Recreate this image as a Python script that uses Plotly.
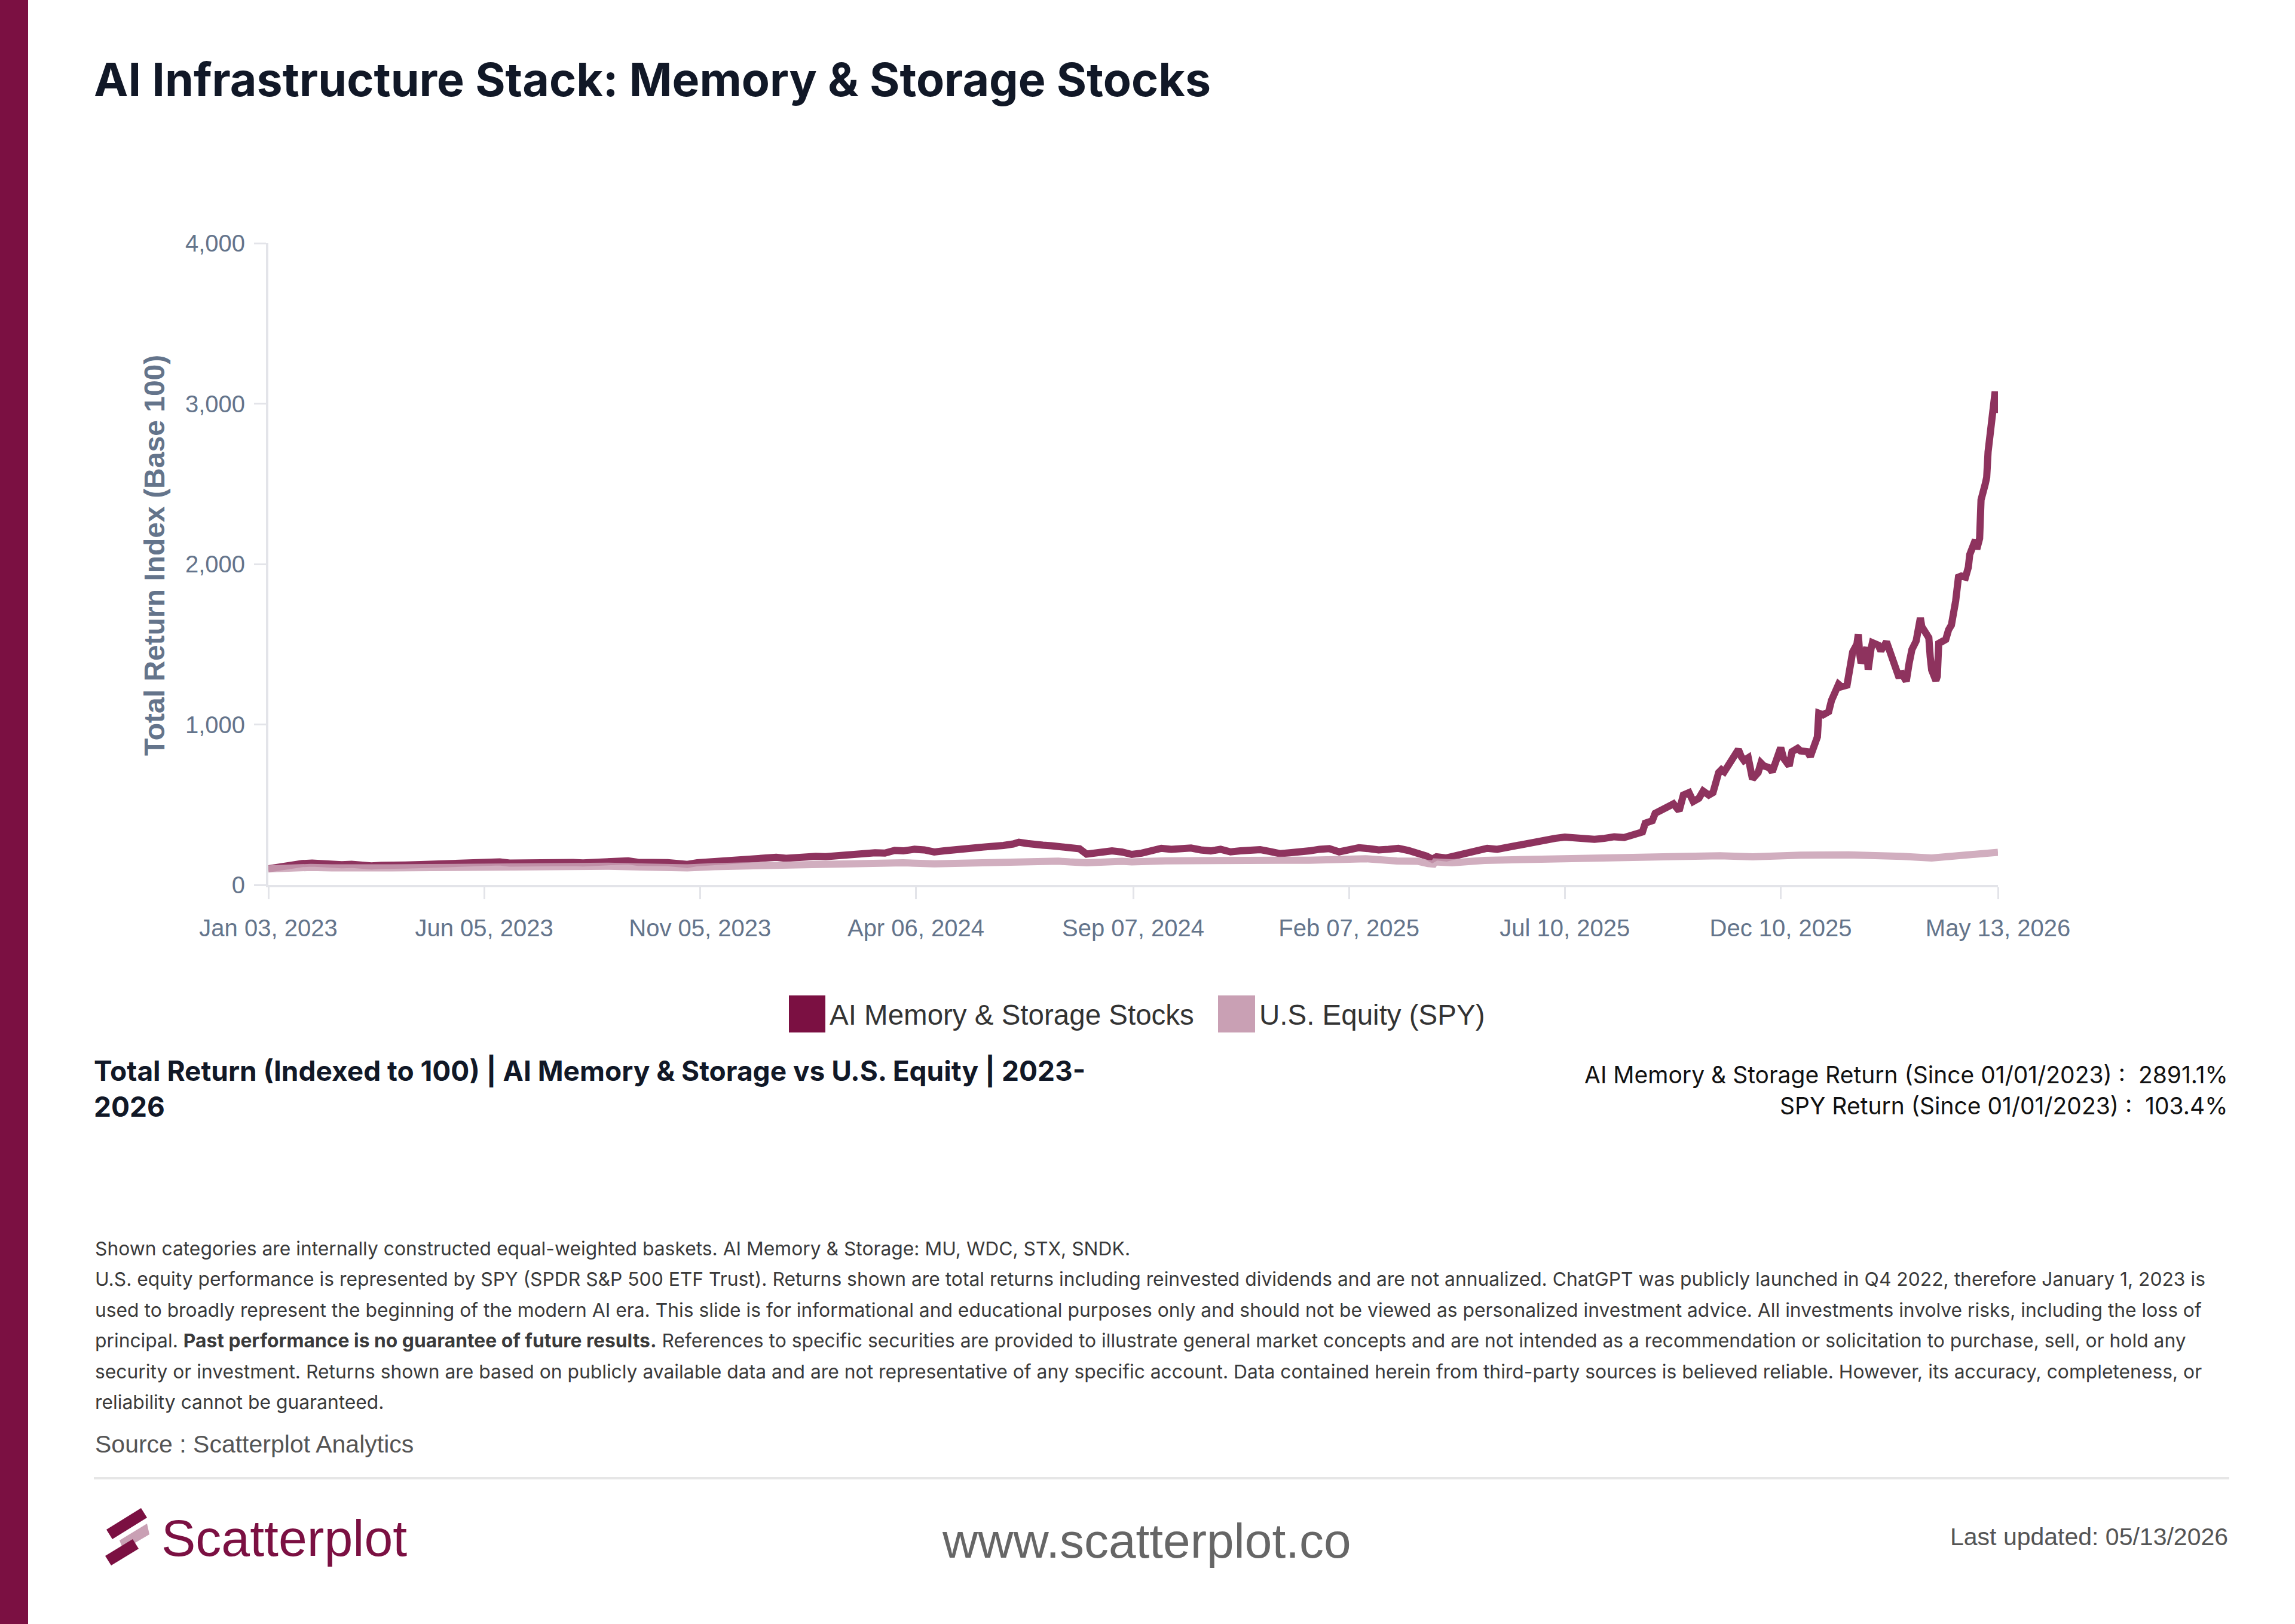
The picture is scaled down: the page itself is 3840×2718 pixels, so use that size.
import plotly.graph_objects as go

# ---------------- data ----------------
ai_dates = [
    # 2023
    "2023-01-03", "2023-01-10", "2023-01-18", "2023-01-27", "2023-02-03", "2023-02-10", "2023-02-17",
    "2023-02-24", "2023-03-03", "2023-03-10", "2023-03-17", "2023-03-24", "2023-03-31", "2023-04-10",
    "2023-04-21", "2023-04-28", "2023-05-05", "2023-05-12", "2023-05-19", "2023-05-26", "2023-06-02",
    "2023-06-09", "2023-06-16", "2023-06-23", "2023-06-30", "2023-07-07", "2023-07-14", "2023-07-21",
    "2023-07-31", "2023-08-07", "2023-08-14", "2023-08-21", "2023-08-31", "2023-09-08", "2023-09-15",
    "2023-09-22", "2023-09-29", "2023-10-06", "2023-10-13", "2023-10-20", "2023-10-27", "2023-11-03",
    "2023-11-10", "2023-11-17", "2023-11-24", "2023-12-01", "2023-12-08", "2023-12-15", "2023-12-22",
    "2023-12-29",
    # 2024
    "2024-01-05", "2024-01-12", "2024-01-19", "2024-01-26", "2024-02-02", "2024-02-09", "2024-02-16",
    "2024-02-23", "2024-03-01", "2024-03-08", "2024-03-15", "2024-03-22", "2024-03-28", "2024-04-05",
    "2024-04-12", "2024-04-19", "2024-04-26", "2024-05-03", "2024-05-10", "2024-05-17", "2024-05-24",
    "2024-05-31", "2024-06-07", "2024-06-14", "2024-06-18", "2024-06-24", "2024-06-28", "2024-07-05",
    "2024-07-11", "2024-07-17", "2024-07-24", "2024-07-31", "2024-08-05", "2024-08-09", "2024-08-16",
    "2024-08-23", "2024-08-30", "2024-09-06", "2024-09-13", "2024-09-20", "2024-09-27", "2024-10-04",
    "2024-10-11", "2024-10-18", "2024-10-25", "2024-11-01", "2024-11-08", "2024-11-15", "2024-11-22",
    "2024-11-29", "2024-12-06", "2024-12-13", "2024-12-20", "2024-12-27",
    # 2025
    "2025-01-03", "2025-01-10", "2025-01-17", "2025-01-24", "2025-01-31", "2025-02-07", "2025-02-14",
    "2025-02-21", "2025-02-28", "2025-03-07", "2025-03-14", "2025-03-21", "2025-03-28", "2025-04-03",
    "2025-04-07", "2025-04-10", "2025-04-17", "2025-04-25", "2025-05-02", "2025-05-09", "2025-05-16",
    "2025-05-23", "2025-05-30", "2025-06-06", "2025-06-13", "2025-06-20", "2025-06-27", "2025-07-03",
    "2025-07-10", "2025-07-17", "2025-07-24", "2025-07-31", "2025-08-07", "2025-08-14", "2025-08-21",
    "2025-08-28", "2025-09-03", "2025-09-05", "2025-09-10", "2025-09-12", "2025-09-17", "2025-09-22",
    "2025-09-25", "2025-09-29", "2025-10-02", "2025-10-06", "2025-10-09", "2025-10-13", "2025-10-16",
    "2025-10-20", "2025-10-23", "2025-10-27", "2025-10-29", "2025-10-31", "2025-11-03", "2025-11-05",
    "2025-11-07", "2025-11-10", "2025-11-12", "2025-11-14", "2025-11-17", "2025-11-20", "2025-11-24",
    "2025-11-26", "2025-11-28", "2025-12-02", "2025-12-04", "2025-12-08", "2025-12-10", "2025-12-12",
    "2025-12-16", "2025-12-18", "2025-12-22", "2025-12-24", "2025-12-29", "2025-12-31",
    # 2026
    "2026-01-02", "2026-01-05", "2026-01-06", "2026-01-09", "2026-01-13", "2026-01-15", "2026-01-20",
    "2026-01-22", "2026-01-26", "2026-01-28", "2026-01-30", "2026-02-02", "2026-02-03", "2026-02-04",
    "2026-02-05", "2026-02-09", "2026-02-10", "2026-02-12", "2026-02-13", "2026-02-17", "2026-02-19",
    "2026-02-23", "2026-02-25", "2026-02-27", "2026-03-02", "2026-03-04", "2026-03-05", "2026-03-09",
    "2026-03-11", "2026-03-13", "2026-03-16", "2026-03-18", "2026-03-19", "2026-03-20", "2026-03-23",
    "2026-03-25", "2026-03-26", "2026-03-27", "2026-03-30", "2026-03-31", "2026-04-01", "2026-04-06",
    "2026-04-08", "2026-04-10", "2026-04-13", "2026-04-15", "2026-04-17", "2026-04-20", "2026-04-22",
    "2026-04-23", "2026-04-27", "2026-04-28", "2026-04-30", "2026-05-01", "2026-05-04", "2026-05-05",
    "2026-05-06", "2026-05-07", "2026-05-08", "2026-05-11", "2026-05-12", "2026-05-13",
]
ai_values = [
    # 2023
    100, 112, 122, 133, 136, 130, 132,
    126, 128, 120, 118, 122, 127, 124,
    127, 130, 128, 133, 138, 136, 140,
    139, 143, 136, 138, 135, 140, 143,
    146, 140, 137, 139, 146, 148, 150,
    141, 143, 142, 139, 133, 128, 138,
    142, 148, 152, 156, 160, 170, 173,
    172,
    # 2024
    166, 172, 180, 178, 176, 182, 186,
    184, 192, 200, 198, 215, 212, 222,
    218, 205, 212, 215, 222, 230, 236,
    238, 246, 255, 266, 258, 252, 248,
    244, 238, 236, 225, 192, 198, 210,
    212, 205, 190, 198, 212, 228, 222,
    226, 230, 218, 212, 222, 206, 212,
    214, 220, 208, 195, 200,
    # 2025
    202, 212, 222, 226, 206, 220, 232,
    226, 218, 222, 228, 215, 202, 180,
    160, 175, 168, 185, 198, 205, 228,
    222, 235, 244, 250, 265, 282, 290,
    298, 292, 280, 284, 290, 300, 295,
    312, 330, 385, 400, 446, 470, 492,
    505, 462, 560, 575, 520, 540, 585,
    560, 575, 700, 718, 705, 748, 790,
    818, 844, 800, 775, 792, 660, 700,
    760, 742, 730, 705, 800, 855, 790,
    742, 830, 851, 835, 830, 800,
    # 2026
    860, 923, 1070, 1060, 1080, 1150, 1250,
    1235, 1245, 1350, 1452, 1500, 1562, 1440,
    1382, 1480, 1342, 1470, 1510, 1495, 1460,
    1515, 1470, 1404, 1360, 1290, 1330, 1270,
    1380, 1467, 1520, 1600, 1664, 1610, 1560,
    1540, 1420, 1340, 1274, 1300, 1505, 1530,
    1590, 1620, 1769, 1918, 1925, 1918, 1980,
    2059, 2150, 2093, 2160, 2400, 2500, 2540,
    2700, 2782, 2800, 3075, 2945, 2991,
]

spy_dates = [
    "2023-01-03", "2023-01-13", "2023-02-02", "2023-02-17", "2023-03-10", "2023-03-31", "2023-04-28",
    "2023-05-26", "2023-06-15", "2023-07-07", "2023-07-31", "2023-08-18", "2023-09-01", "2023-09-29",
    "2023-10-27", "2023-11-15", "2023-12-28",
    "2024-01-19", "2024-02-12", "2024-03-08", "2024-03-28", "2024-04-19", "2024-05-20", "2024-06-14",
    "2024-07-16", "2024-07-24", "2024-08-05", "2024-08-30", "2024-09-06", "2024-09-30", "2024-10-18",
    "2024-10-31", "2024-11-11", "2024-12-06", "2024-12-20",
    "2025-01-10", "2025-01-23", "2025-02-19", "2025-03-13", "2025-03-28", "2025-04-04", "2025-04-08",
    "2025-04-09", "2025-04-21", "2025-05-14", "2025-06-06", "2025-06-30", "2025-07-31", "2025-08-15",
    "2025-09-30", "2025-10-28", "2025-11-20", "2025-12-11", "2025-12-24",
    "2026-01-27", "2026-02-20", "2026-03-06", "2026-03-27", "2026-04-10", "2026-04-20", "2026-05-05",
    "2026-05-13",
]
spy_values = [
    100, 104, 109, 106, 101, 106, 108,
    111, 116, 116, 120, 113, 116, 111,
    106, 114, 124,
    127, 132, 135, 138, 131, 139, 142,
    148, 143, 138, 147, 143, 150, 153,
    148, 156, 159, 154,
    154, 160, 163, 149, 147, 133, 130,
    143, 138, 153, 157, 164, 167, 170,
    176, 182, 175, 183, 185,
    187, 184, 178, 168, 180, 190, 199,
    203.4,
]

tick_dates = ["2023-01-03", "2023-06-05", "2023-11-05", "2024-04-06", "2024-09-07",
              "2025-02-07", "2025-07-10", "2025-12-10", "2026-05-13"]
tick_labels = ["Jan 03, 2023", "Jun 05, 2023", "Nov 05, 2023", "Apr 06, 2024", "Sep 07, 2024",
               "Feb 07, 2025", "Jul 10, 2025", "Dec 10, 2025", "May 13, 2026"]
y_ticks = [0, 1000, 2000, 3000, 4000]

series_names = ["AI Memory & Storage Stocks", "U.S. Equity (SPY)"]
ai_return_pct = 2891.1
spy_return_pct = 103.4

# ---------------- layout geometry ----------------
W, H = 3840, 2718
PL, PR, PT, PB = 449, 3343, 407, 1481

def px(x):
    return (x - PL) / (PR - PL)

def py(y):
    return (PB - y) / (PB - PT)

DARK = "#7B1042"
PINK = "#C9A0B4"
SLATE = "#64748b"
AXC = "#e3e4e9"
TITLE_FONT = "Inter, Roboto, Arial, sans-serif"
ARIAL = "Liberation Sans, Arial, sans-serif"

fig = go.Figure()
fig.add_trace(go.Scatter(x=ai_dates, y=ai_values, mode="lines", name=series_names[0],
                         line=dict(color=DARK, width=12), opacity=0.85))
fig.add_trace(go.Scatter(x=spy_dates, y=spy_values, mode="lines", name=series_names[1],
                         line=dict(color=PINK, width=12), opacity=0.85))

fig.update_layout(
    width=W, height=H,
    margin=dict(l=PL, r=W - PR, t=PT, b=H - PB, pad=0),
    paper_bgcolor="white", plot_bgcolor="white",
    showlegend=False,
    font=dict(family=ARIAL, color=SLATE),
)
fig.update_xaxes(
    type="date", range=[tick_dates[0], tick_dates[-1]],
    tickvals=tick_dates, ticktext=tick_labels,
    showgrid=False, zeroline=False,
    showline=True, linewidth=4, linecolor=AXC,
    ticks="outside", ticklen=20, tickwidth=3, tickcolor=AXC,
    tickfont=dict(family=ARIAL, size=40, color=SLATE),
    ticklabelstandoff=14,
)
fig.update_yaxes(
    range=[0, 4000], tickvals=y_ticks, tickformat=",",
    showgrid=False, zeroline=False,
    showline=True, linewidth=4, linecolor=AXC,
    ticks="outside", ticklen=20, tickwidth=3, tickcolor=AXC,
    tickfont=dict(family=ARIAL, size=40, color=SLATE),
    ticklabelstandoff=7,
)

shapes = []
ann = []

# y-axis title
ann.append(dict(text="<b>Total Return Index (Base 100)</b>", x=px(258), y=py(930), textangle=-90,
                xanchor="center", yanchor="middle", font=dict(family=ARIAL, size=48, color=SLATE)))

# left accent bar
shapes.append(dict(type="rect", xref="paper", yref="paper", x0=px(0), x1=px(47), y0=py(H), y1=py(0),
                   fillcolor=DARK, line=dict(width=0), layer="below"))

# title
ann.append(dict(text="<b>AI Infrastructure Stack: Memory &amp; Storage Stocks</b>", x=px(155), y=py(133),
                xanchor="left", yanchor="middle", font=dict(family=TITLE_FONT, size=77, color="#111827")))

# legend (custom square swatches)
shapes.append(dict(type="rect", xref="paper", yref="paper", x0=px(1320), x1=px(1381), y0=py(1728), y1=py(1666),
                   fillcolor=DARK, line=dict(width=0)))
shapes.append(dict(type="rect", xref="paper", yref="paper", x0=px(2038), x1=px(2100), y0=py(1728), y1=py(1666),
                   fillcolor=PINK, line=dict(width=0)))
ann.append(dict(text=series_names[0], x=px(1386), y=py(1698), xanchor="left", yanchor="middle",
                font=dict(family=ARIAL, size=47.5, color="#333333")))
ann.append(dict(text=series_names[1], x=px(2105), y=py(1698), xanchor="left", yanchor="middle",
                font=dict(family=ARIAL, size=47.5, color="#333333")))

# subtitle
ann.append(dict(text="<b>Total Return (Indexed to 100) | AI Memory &amp; Storage vs U.S. Equity | 2023-<br>2026</b>",
                x=px(155), y=py(1822), xanchor="left", yanchor="middle", align="left",
                font=dict(family=TITLE_FONT, size=46, color="#111827")))

# stats (right)
ann.append(dict(text=f"AI Memory &amp; Storage Return (Since 01/01/2023) :  {ai_return_pct:.1f}%",
                x=px(3730), y=py(1798), xanchor="right", yanchor="middle",
                font=dict(family=TITLE_FONT, size=39, color="#111111")))
ann.append(dict(text=f"SPY Return (Since 01/01/2023) :  {spy_return_pct:.1f}%",
                x=px(3730), y=py(1850), xanchor="right", yanchor="middle",
                font=dict(family=TITLE_FONT, size=39, color="#111111")))

# footnotes
foot_lines = [
    "Shown categories are internally constructed equal-weighted baskets. AI Memory &amp; Storage: MU, WDC, STX, SNDK.",
    "U.S. equity performance is represented by SPY (SPDR S&amp;P 500 ETF Trust). Returns shown are total returns including reinvested dividends and are not annualized. ChatGPT was publicly launched in Q4 2022, therefore January 1, 2023 is",
    "used to broadly represent the beginning of the modern AI era. This slide is for informational and educational purposes only and should not be viewed as personalized investment advice. All investments involve risks, including the loss of",
    "principal. <b>Past performance is no guarantee of future results.</b> References to specific securities are provided to illustrate general market concepts and are not intended as a recommendation or solicitation to purchase, sell, or hold any",
    "security or investment. Returns shown are based on publicly available data and are not representative of any specific account. Data contained herein from third-party sources is believed reliable. However, its accuracy, completeness, or",
    "reliability cannot be guaranteed.",
]
foot_y = [2089, 2140, 2192, 2243, 2295, 2346]
for t, yy in zip(foot_lines, foot_y):
    ann.append(dict(text=t, x=px(157), y=py(yy), xanchor="left", yanchor="middle",
                    font=dict(family=TITLE_FONT, size=31.8, color="#3a3a3a")))

ann.append(dict(text="Source : Scatterplot Analytics", x=px(157), y=py(2417), xanchor="left", yanchor="middle",
                font=dict(family=ARIAL, size=41, color="#555555")))

# separator
shapes.append(dict(type="line", xref="paper", yref="paper", x0=px(157), x1=px(3730), y0=py(2474), y1=py(2474),
                   line=dict(color="#e6e6e6", width=4)))

# footer logo mark
logo_parts = [
    ("M 178 2560 L 236 2524 L 246 2540 L 188 2576 Z", DARK),
    ("M 200 2578 L 246 2550 L 250 2568 L 206 2594 Z", PINK),
    ("M 176 2604 L 222 2576 L 232 2592 L 186 2620 Z", DARK),
]
for path, col in logo_parts:
    toks = path.split()
    out = []
    i = 0
    while i < len(toks):
        tk = toks[i]
        if tk in ("M", "L"):
            xx = px(float(toks[i + 1]))
            yy = py(float(toks[i + 2]))
            out.append(f"{tk} {xx:.5f} {yy:.5f}")
            i += 3
        else:
            out.append(tk)
            i += 1
    shapes.append(dict(type="path", xref="paper", yref="paper", path=" ".join(out),
                       fillcolor=col, line=dict(width=0)))

ann.append(dict(text="Scatterplot", x=px(268), y=py(2574), xanchor="left", yanchor="middle",
                font=dict(family=ARIAL, size=86, color=DARK)))
ann.append(dict(text="www.scatterplot.co", x=px(1918), y=py(2578), xanchor="center", yanchor="middle",
                font=dict(family=ARIAL, size=82, color="#666666")))
ann.append(dict(text="Last updated: 05/13/2026", x=px(3730), y=py(2572), xanchor="right", yanchor="middle",
                font=dict(family=ARIAL, size=41, color="#555555")))

for a in ann:
    a.update(xref="paper", yref="paper", showarrow=False)

fig.update_layout(shapes=shapes, annotations=ann)
fig.write_html("out.html", config={"displayModeBar": False})
